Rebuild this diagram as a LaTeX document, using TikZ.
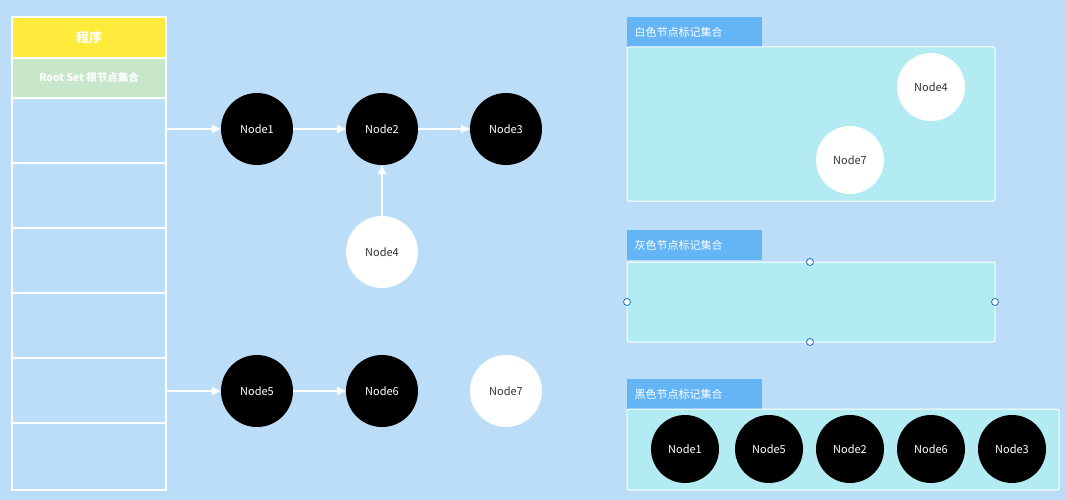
\documentclass[tikz,border=0pt]{standalone}
\usepackage{fontspec}
\setmainfont{Noto Sans CJK SC}
\usetikzlibrary{arrows.meta}
\definecolor{bgblue}{HTML}{BBDDF7}
\definecolor{setfill}{HTML}{B2EBF2}
\definecolor{tagblue}{HTML}{64B5F6}
\definecolor{hdyellow}{HTML}{FFEB3B}
\definecolor{rootgreen}{HTML}{C8E6C9}
\definecolor{handle}{HTML}{1E6FC8}
\tikzset{
  blacknode/.style={circle,fill=black,text=white,minimum size=72pt,inner sep=0pt,font=\fontsize{11}{13}\selectfont},
  whitenode/.style={circle,fill=white,text=black!80,minimum size=72pt,inner sep=0pt,font=\fontsize{11}{13}\selectfont},
  smallblack/.style={blacknode,minimum size=68pt},
  smallwhite/.style={whitenode,minimum size=68pt},
  settag/.style={fill=tagblue,text=white,anchor=north west,minimum width=135pt,minimum height=30pt,text width=120pt,font=\fontsize{11}{13}\selectfont},
  setbox/.style={draw=white,fill=setfill,line width=1pt,rounded corners=2pt},
  link/.style={draw=white,line width=1.2pt,-{Triangle[length=9pt,width=8pt]}},
  handledot/.style={circle,draw=handle,fill=white,line width=0.8pt,minimum size=7pt,inner sep=0pt}
}
\begin{document}
\begin{tikzpicture}[x=1pt,y=-1pt]
  \fill[bgblue] (0,0) rectangle (1066,500);
  \useasboundingbox (0,0) rectangle (1066,500);
  % program stack
  \fill[hdyellow] (12,17) rectangle (166,58);
  \fill[rootgreen] (12,58) rectangle (166,98);
  \node[text=white,font=\bfseries\fontsize{13}{15}\selectfont] (prog) at (89,38) {程序};
  \node[text=white,font=\bfseries\fontsize{10.5}{12}\selectfont] (root) at (89,78) {Root Set 根节点集合};
  \draw[white,line width=1.5pt] (12,17) rectangle (166,490);
  \foreach \y in {58,98,163,228,293,358,423}
    \draw[white,line width=1.5pt] (12,\y) -- (166,\y);
  \coordinate (ref1) at (166,129);
  \coordinate (ref2) at (166,391);
  % object graph
  \node[blacknode] (n1) at (257,129) {Node1};
  \node[blacknode] (n2) at (382,129) {Node2};
  \node[blacknode] (n3) at (506,129) {Node3};
  \node[whitenode] (n4) at (382,252) {Node4};
  \node[blacknode] (n5) at (257,391) {Node5};
  \node[blacknode] (n6) at (382,391) {Node6};
  \node[whitenode] (n7) at (506,391) {Node7};
  \draw[link] (ref1) -- (n1);
  \draw[link] (n1) -- (n2);
  \draw[link] (n2) -- (n3);
  \draw[link] (n4) -- (n2);
  \draw[link] (ref2) -- (n5);
  \draw[link] (n5) -- (n6);
  % white set
  \node[settag] (wtag) at (627,17) {白色节点标记集合};
  \draw[setbox] (627,47) rectangle (995,201);
  \node[smallwhite] (w4) at (931,87) {Node4};
  \node[smallwhite] (w7) at (850,160) {Node7};
  % gray set
  \node[settag] (gtag) at (627,230) {灰色节点标记集合};
  \draw[setbox] (627,262) rectangle (995,342);
  \node[handledot] (h1) at (810,262) {};
  \node[handledot] (h2) at (810,342) {};
  \node[handledot] (h3) at (627,302) {};
  \node[handledot] (h4) at (995,302) {};
  % black set
  \node[settag] (btag) at (627,379) {黑色节点标记集合};
  \draw[setbox] (627,409) rectangle (1059,490);
  \foreach \x/\name in {685/Node1,769/Node5,850/Node2,931/Node6,1012/Node3}
    \node[smallblack] (b\name) at (\x,449) {\name};
\end{tikzpicture}
\end{document}
